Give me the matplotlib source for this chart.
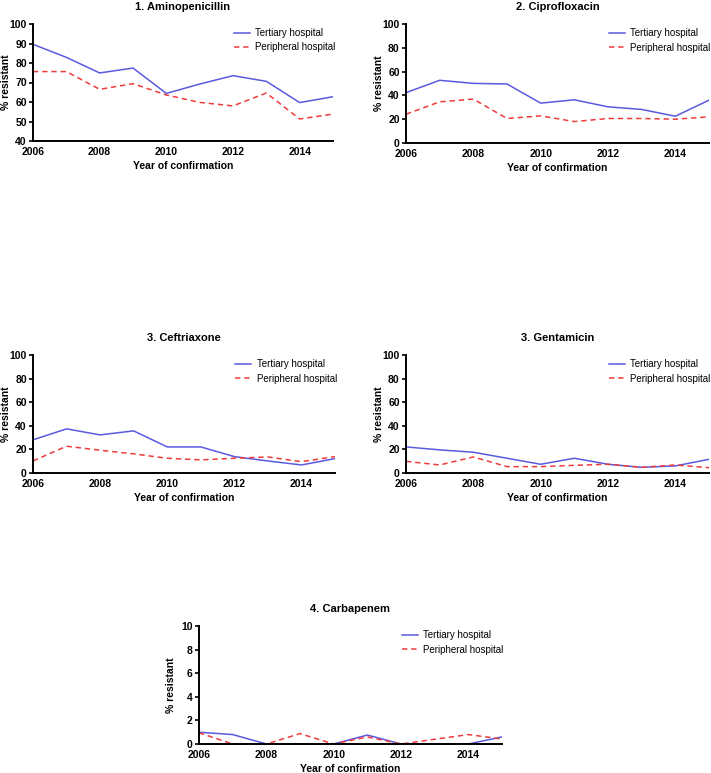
import matplotlib
matplotlib.use("Agg")
import matplotlib.pyplot as plt

plt.rcParams['font.family'] = ['Liberation Sans', 'DejaVu Sans']

years = [2006, 2007, 2008, 2009, 2010, 2011, 2012, 2013, 2014, 2015]
xticks = [2006, 2008, 2010, 2012, 2014]

titles = ["1. Aminopenicillin", "2. Ciprofloxacin", "3. Ceftriaxone", "3. Gentamicin", "4. Carbapenem"]

amino_tertiary = [89.6, 82.9, 74.9, 77.4, 64.4, 69.2, 73.5, 70.6, 59.7, 62.7]
amino_peripheral = [75.6, 75.6, 66.5, 69.4, 63.6, 59.8, 58.0, 64.6, 51.3, 53.8]

cipro_tertiary = [42.3, 52.7, 50.1, 49.6, 33.5, 36.3, 30.4, 28.2, 22.5, 36.0]
cipro_peripheral = [24.2, 34.6, 36.9, 20.6, 22.8, 18.0, 20.6, 20.6, 20.0, 22.0]

ceftri_tertiary = [28.1, 37.4, 32.3, 35.7, 22.1, 22.1, 13.9, 10.2, 6.8, 12.2]
ceftri_peripheral = [10.2, 22.7, 19.3, 16.2, 12.5, 11.1, 12.5, 13.6, 9.6, 13.9]

genta_tertiary = [22.1, 19.6, 17.6, 12.5, 7.4, 12.5, 7.4, 4.8, 6.0, 11.6]
genta_peripheral = [9.9, 6.8, 13.6, 5.4, 5.4, 6.5, 7.4, 4.8, 6.8, 4.5]

carba_tertiary = [1.0, 0.8, 0.0, 0.0, 0.0, 0.76, 0.0, 0.0, 0.0, 0.6]
carba_peripheral = [0.95, 0.0, 0.0, 0.88, 0.0, 0.6, 0.0, 0.4, 0.8, 0.42]

ylims = [(40, 100), (0, 100), (0, 100), (0, 100), (0, 10)]
ytick_steps = [10, 20, 20, 20, 2]

series = [
    (amino_tertiary, amino_peripheral),
    (cipro_tertiary, cipro_peripheral),
    (ceftri_tertiary, ceftri_peripheral),
    (genta_tertiary, genta_peripheral),
    (carba_tertiary, carba_peripheral),
]

# axes boxes in pixels: left, right, top, bottom
boxes = [
    (33, 333, 24, 141),
    (406, 709, 24, 143),
    (33, 335, 355, 473),
    (406, 709, 355, 473),
    (199, 502, 626, 744),
]

W, H = 711, 773
fig = plt.figure(figsize=(W / 100, H / 100), dpi=100)

blue = '#5a5ae0'
red = '#ee3b3b'

for i in range(5):
    l, r, t, b = boxes[i]
    ax = fig.add_axes([l / W, 1 - b / H, (r - l) / W, (b - t) / H])
    tert, peri = series[i]
    ax.plot(years, tert, color=blue, lw=1.1, label='Tertiary hospital')
    ax.plot(years, peri, color=red, lw=1.1, ls=(0, (3.5, 2.5)), label='Peripheral hospital')
    lo, hi = ylims[i]
    ax.set_ylim(lo, hi)
    ax.set_xlim(2006, 2015)
    step = ytick_steps[i]
    ax.set_yticks(list(range(lo, hi + 1, step)))
    ax.set_xticks(xticks)
    for s in ['top', 'right']:
        ax.spines[s].set_visible(False)
    for s in ['left', 'bottom']:
        ax.spines[s].set_linewidth(1.4)
    ax.spines['left'].set_zorder(5)
    ax.tick_params(axis='y', direction='out', length=3, width=1.2, pad=1.5, labelsize=7.5)
    ax.tick_params(axis='x', direction='out', length=0, width=1.2, pad=4, labelsize=7.5)
    for lab in ax.get_xticklabels() + ax.get_yticklabels():
        lab.set_fontweight('bold')
    ax.set_xlabel('Year of confirmation', fontsize=7.5, fontweight='bold', labelpad=3)
    ax.set_ylabel('% resistant', fontsize=7.5, fontweight='bold')
    ax.yaxis.label.set_va('center')
    ax.yaxis.set_label_coords(-27.5 / (r - l), 0.5)
    ax.set_title(titles[i], fontsize=8, fontweight='bold', pad=10)
    ax.legend(loc='upper left', bbox_to_anchor=(0.67, 0.965), frameon=False,
              fontsize=7, handlelength=1.6, handletextpad=0.6,
              borderpad=0, labelspacing=0.45, borderaxespad=0)

fig.savefig('out.png', dpi=100)
